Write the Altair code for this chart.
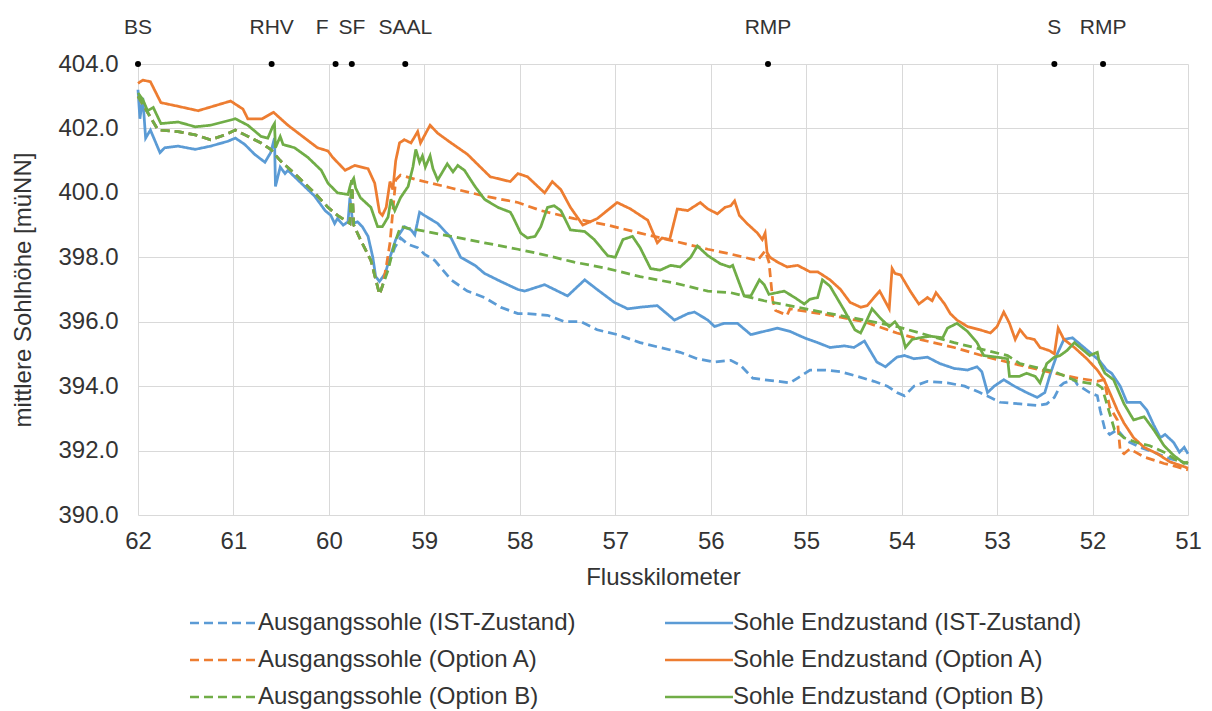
import altair as alt
import pandas as pd

# ---------------- data ----------------
# shared upstream part of all three "Ausgangssohle" profiles (km, m ü. NN)
up_km = [62.00, 61.93, 61.86, 61.79, 61.58, 61.40, 61.24, 61.09, 60.98, 60.88, 60.71, 60.61,
         60.51, 60.36, 60.15, 60.01, 59.91, 59.78, 59.76, 59.74, 59.67, 59.56, 59.47, 59.44]
up_h = [403.0, 402.65, 402.3, 401.95, 401.9, 401.8, 401.65, 401.8, 401.95, 401.8, 401.55, 401.35,
        401.0, 400.6, 400.0, 399.55, 399.3, 399.05, 400.4, 399.0, 398.55, 397.9, 396.85, 397.1]

ist_aus_km = [59.40, 59.36, 59.31, 59.25, 59.17, 59.07, 59.00, 58.89, 58.72, 58.55, 58.37, 58.20,
              58.02, 57.92, 57.71, 57.53, 57.36, 57.19, 56.98, 56.74, 56.53, 56.32, 56.14, 55.96,
              55.79, 55.69, 55.56, 55.44, 55.30, 55.17, 55.09, 54.96, 54.81, 54.64, 54.46, 54.29,
              54.15, 54.05, 53.97, 53.87, 53.73, 53.52, 53.34, 53.18, 53.07, 52.97, 52.76, 52.58,
              52.48, 52.40, 52.34, 52.30, 52.19, 52.16, 52.03, 51.95, 51.92, 51.87, 51.82, 51.74,
              51.64, 51.50, 51.36, 51.19, 51.00]
ist_aus_h = [397.5, 397.9, 398.3, 398.6, 398.4, 398.3, 398.1, 397.9, 397.3, 396.95, 396.75, 396.45,
             396.25, 396.25, 396.2, 396.0, 396.0, 395.75, 395.6, 395.35, 395.2, 395.05, 394.85, 394.75,
             394.8, 394.65, 394.25, 394.2, 394.15, 394.1, 394.25, 394.5, 394.5, 394.45, 394.3, 394.15,
             394.0, 393.8, 393.7, 394.0, 394.15, 394.1, 394.0, 393.8, 393.65, 393.5, 393.45, 393.4,
             393.45, 393.65, 394.0, 394.1, 394.2, 394.05, 393.8, 393.7, 393.25, 392.65, 392.5, 392.65,
             392.3, 392.1, 391.95, 391.75, 391.6]

ist_end_km = [62.00, 61.98, 61.95, 61.92, 61.87, 61.82, 61.77, 61.72, 61.58, 61.40, 61.24, 61.06,
              60.98, 60.88, 60.78, 60.67, 60.61, 60.57, 60.56, 60.51, 60.46, 60.43, 60.29, 60.15,
              60.04, 59.98, 59.94, 59.91, 59.85, 59.80, 59.78, 59.75, 59.70, 59.65, 59.59, 59.54,
              59.51, 59.47, 59.41, 59.36, 59.30, 59.21, 59.14, 59.10, 59.05, 59.00, 58.86, 58.72,
              58.62, 58.47, 58.37, 58.20, 58.02, 57.95, 57.74, 57.50, 57.32, 57.19, 57.01, 56.87,
              56.74, 56.56, 56.38, 56.24, 56.17, 56.03, 55.96, 55.86, 55.72, 55.58, 55.44, 55.30,
              55.17, 55.02, 54.88, 54.75, 54.60, 54.50, 54.39, 54.33, 54.26, 54.17, 54.05, 53.97,
              53.87, 53.73, 53.60, 53.45, 53.31, 53.21, 53.16, 53.10, 53.03, 52.93, 52.82, 52.69,
              52.58, 52.50, 52.44, 52.37, 52.30, 52.21, 52.13, 52.03, 51.93, 51.85, 51.80, 51.71,
              51.64, 51.50, 51.43, 51.36, 51.29, 51.24, 51.15, 51.09, 51.04, 51.00]
ist_end_h = [403.2, 402.3, 402.95, 401.7, 401.95, 401.6, 401.25, 401.4, 401.45, 401.35, 401.45, 401.6,
             401.7, 401.5, 401.2, 400.95, 401.25, 401.7, 400.2, 400.8, 400.6, 400.7, 400.3, 399.9,
             399.45, 399.3, 399.05, 399.2, 399.0, 399.1, 399.85, 399.05, 399.1, 398.95, 398.65, 398.0,
             397.4, 397.25, 397.5, 398.0, 398.55, 398.95, 398.85, 398.7, 399.4, 399.3, 399.05, 398.6,
             398.0, 397.75, 397.5, 397.25, 397.0, 396.95, 397.15, 396.8, 397.3, 397.0, 396.6, 396.4,
             396.45, 396.5, 396.05, 396.25, 396.3, 396.05, 395.85, 395.95, 395.95, 395.6, 395.7, 395.8,
             395.7, 395.5, 395.35, 395.2, 395.25, 395.2, 395.4, 395.1, 394.75, 394.6, 394.9, 394.95,
             394.85, 394.9, 394.7, 394.55, 394.5, 394.6, 394.45, 393.8, 394.0, 394.2, 394.0, 393.8,
             393.65, 393.8, 394.4, 395.0, 395.45, 395.5, 395.3, 395.05, 394.8, 394.5, 394.4, 394.0,
             393.5, 393.5, 393.25, 392.8, 392.4, 392.5, 392.25, 391.95, 392.1, 391.9]

a_aus_km = [59.40, 59.36, 59.33, 59.30, 59.25, 59.07, 58.72, 58.37, 58.02, 57.78, 57.43, 57.08,
            56.74, 56.38, 56.03, 55.79, 55.51, 55.43, 55.39, 55.35, 55.32, 55.20, 55.17, 54.75,
            54.39, 54.05, 53.81, 53.45, 53.10, 52.76, 52.40, 52.16, 51.95, 51.88, 51.82, 51.74,
            51.71, 51.67, 51.61, 51.46, 51.25, 51.12, 51.00]
a_aus_h = [397.7, 398.45, 399.45, 400.4, 400.55, 400.4, 400.15, 399.9, 399.7, 399.45, 399.2, 399.0,
           398.75, 398.5, 398.25, 398.1, 397.9, 398.2, 397.85, 396.65, 396.35, 396.2, 396.4, 396.2,
           396.0, 395.65, 395.45, 395.2, 394.9, 394.65, 394.4, 394.25, 394.15, 394.2, 393.35, 392.95,
           392.0, 391.9, 392.05, 391.8, 391.6, 391.5, 391.4]

a_end_km = [62.00, 61.95, 61.87, 61.76, 61.60, 61.37, 61.20, 61.03, 60.90, 60.85, 60.70, 60.58,
            60.43, 60.12, 60.01, 59.96, 59.83, 59.73, 59.59, 59.52, 59.47, 59.44, 59.40, 59.36,
            59.33, 59.30, 59.26, 59.21, 59.14, 59.07, 59.04, 58.94, 58.86, 58.72, 58.55, 58.31,
            58.10, 58.02, 57.92, 57.74, 57.66, 57.57, 57.47, 57.34, 57.19, 56.98, 56.84, 56.66,
            56.56, 56.51, 56.43, 56.35, 56.24, 56.11, 56.03, 55.93, 55.85, 55.79, 55.75, 55.70,
            55.62, 55.51, 55.46, 55.43, 55.41, 55.38, 55.30, 55.20, 55.09, 54.96, 54.88, 54.75,
            54.64, 54.54, 54.43, 54.36, 54.29, 54.23, 54.13, 54.10, 54.07, 54.01, 53.91, 53.82,
            53.73, 53.68, 53.64, 53.55, 53.49, 53.42, 53.31, 53.18, 53.07, 53.00, 52.93, 52.87,
            52.81, 52.76, 52.69, 52.61, 52.55, 52.45, 52.40, 52.36, 52.30, 52.19, 52.06, 51.95,
            51.88, 51.82, 51.74, 51.67, 51.57, 51.46, 51.32, 51.19, 51.04, 51.00]
a_end_h = [403.4, 403.5, 403.45, 402.8, 402.7, 402.55, 402.7, 402.85, 402.6, 402.3, 402.3, 402.5,
           402.1, 401.4, 401.3, 401.1, 400.7, 400.85, 400.75, 400.3, 399.4, 399.3, 399.55, 400.35,
           400.1, 401.0, 401.55, 401.65, 401.55, 401.9, 401.55, 402.1, 401.85, 401.55, 401.2, 400.5,
           400.35, 400.6, 400.5, 400.0, 400.35, 400.1, 399.55, 399.0, 399.2, 399.7, 399.5, 399.15,
           398.45, 398.6, 398.55, 399.5, 399.45, 399.7, 399.5, 399.35, 399.55, 399.6, 399.75, 399.3,
           399.05, 398.75, 398.55, 398.75, 398.15, 398.0, 397.85, 397.7, 397.75, 397.55, 397.55, 397.3,
           397.0, 396.6, 396.45, 396.5, 396.75, 396.95, 396.4, 397.65, 397.5, 397.45, 396.95, 396.55,
           396.75, 396.65, 396.9, 396.55, 396.25, 396.05, 395.85, 395.75, 395.65, 395.85, 396.3, 395.95,
           395.45, 395.75, 395.5, 395.45, 395.2, 395.1, 395.0, 395.8, 395.45, 395.2, 394.85, 394.5,
           394.2, 393.8, 393.25, 392.85, 392.4, 392.1, 391.9, 391.65, 391.5, 391.45]

b_aus_km = [59.38, 59.31, 59.25, 59.17, 59.07, 58.72, 58.37, 58.02, 57.78, 57.43, 57.08, 56.74,
            56.38, 56.03, 55.79, 55.44, 55.09, 54.75, 54.39, 54.05, 53.81, 53.45, 53.10, 52.89,
            52.76, 52.40, 52.16, 51.95, 51.90, 51.83, 51.77, 51.67, 51.54, 51.40, 51.25, 51.12,
            51.00]
b_aus_h = [397.6, 398.45, 398.95, 398.9, 398.85, 398.65, 398.45, 398.25, 398.1, 397.85, 397.65, 397.4,
           397.2, 396.95, 396.9, 396.65, 396.45, 396.25, 396.05, 395.85, 395.65, 395.35, 395.1, 394.95,
           394.7, 394.45, 394.15, 394.05, 393.95, 393.25, 392.65, 392.4, 392.25, 392.15, 391.95, 391.7,
           391.6]

b_end_km = [62.00, 61.95, 61.90, 61.84, 61.76, 61.58, 61.40, 61.24, 60.98, 60.85, 60.71, 60.64,
            60.59, 60.57, 60.56, 60.51, 60.48, 60.36, 60.22, 60.08, 60.01, 59.91, 59.80, 59.77,
            59.74, 59.72, 59.67, 59.56, 59.49, 59.44, 59.38, 59.35, 59.31, 59.25, 59.17, 59.12,
            59.09, 59.05, 59.02, 58.99, 58.94, 58.91, 58.86, 58.81, 58.76, 58.70, 58.65, 58.58,
            58.47, 58.37, 58.23, 58.10, 58.08, 57.99, 57.92, 57.84, 57.78, 57.71, 57.64, 57.57,
            57.47, 57.32, 57.22, 57.08, 57.00, 56.92, 56.82, 56.74, 56.63, 56.53, 56.42, 56.32,
            56.21, 56.14, 56.03, 55.90, 55.80, 55.77, 55.72, 55.65, 55.58, 55.49, 55.44, 55.39,
            55.23, 55.12, 55.02, 54.96, 54.88, 54.83, 54.75, 54.60, 54.49, 54.43, 54.38, 54.31,
            54.22, 54.13, 54.07, 54.01, 53.96, 53.89, 53.81, 53.70, 53.57, 53.52, 53.42, 53.31,
            53.21, 53.14, 53.00, 52.89, 52.87, 52.77, 52.69, 52.60, 52.55, 52.48, 52.40, 52.34,
            52.27, 52.19, 52.13, 52.03, 51.95, 51.93, 51.87, 51.78, 51.67, 51.57, 51.46, 51.36,
            51.25, 51.15, 51.04, 51.00]
b_end_h = [403.1, 402.9, 402.55, 402.65, 402.15, 402.2, 402.05, 402.1, 402.3, 402.1, 401.75, 401.7,
           402.05, 402.15, 401.4, 401.75, 401.5, 401.4, 401.1, 400.7, 400.3, 400.0, 399.95, 400.3,
           400.45, 400.15, 399.85, 399.55, 398.95, 398.95, 399.25, 399.8, 399.45, 399.85, 400.2, 400.8,
           401.35, 400.95, 401.15, 400.8, 401.15, 400.75, 400.4, 400.65, 400.9, 400.65, 400.85, 400.7,
           400.2, 399.8, 399.55, 399.4, 399.3, 398.75, 398.6, 398.65, 398.95, 399.55, 399.6, 399.45,
           398.85, 398.8, 398.55, 398.05, 398.0, 398.55, 398.65, 398.3, 397.65, 397.6, 397.75, 397.7,
           398.0, 398.35, 398.05, 397.8, 397.7, 397.75, 397.35, 396.8, 396.8, 397.3, 397.15, 396.85,
           396.95, 396.75, 396.55, 396.7, 396.75, 397.3, 397.1, 396.35, 395.75, 395.65, 395.95, 396.4,
           396.1, 395.85, 396.0, 395.75, 395.2, 395.45, 395.5, 395.55, 395.5, 395.8, 395.95, 395.7,
           395.35, 394.95, 394.9, 394.85, 394.3, 394.3, 394.4, 394.3, 394.1, 394.7, 394.9, 394.95,
           395.1, 395.35, 395.2, 394.95, 395.05, 394.75, 394.4, 394.2, 393.45, 392.95, 393.05, 392.65,
           392.15, 391.85, 391.6, 391.65]

# drawing order (later series on top)
draw_order = ["Ausgangssohle (IST-Zustand)", "Sohle Endzustand (IST-Zustand)",
              "Ausgangssohle (Option A)", "Sohle Endzustand (Option A)",
              "Ausgangssohle (Option B)", "Sohle Endzustand (Option B)"]
# legend order (legend fills column by column)
legend_order = ["Ausgangssohle (IST-Zustand)", "Ausgangssohle (Option A)", "Ausgangssohle (Option B)",
                "Sohle Endzustand (IST-Zustand)", "Sohle Endzustand (Option A)",
                "Sohle Endzustand (Option B)"]
legend_colors = ["#5b9bd5", "#ed7d31", "#70ad47", "#5b9bd5", "#ed7d31", "#70ad47"]
legend_dash = [[9, 5], [9, 5], [9, 5], [1, 0], [1, 0], [1, 0]]

marker_names = ["BS", "RHV", "F", "SF", "SAAL", "RMP", "S", "RMP"]
marker_km = [62.0, 60.60, 59.93, 59.76, 59.20, 55.40, 52.40, 51.89]
marker_level = 404.0

x_ticks = list(range(51, 63))
y_ticks = [390, 392, 394, 396, 398, 400, 402, 404]

# ---------------- table ----------------
series_data = [
    (up_km + ist_aus_km, up_h + ist_aus_h),
    (ist_end_km, ist_end_h),
    (up_km + a_aus_km, up_h + a_aus_h),
    (a_end_km, a_end_h),
    (up_km + b_aus_km, up_h + b_aus_h),
    (b_end_km, b_end_h),
]
rows = []
for name, (kms, hs) in zip(draw_order, series_data):
    for i, (k, h) in enumerate(zip(kms, hs)):
        rows.append({"km": k, "h": h, "serie": name, "i": i})
df = pd.DataFrame(rows)

mk = pd.DataFrame({"name": marker_names, "km": marker_km, "h": [marker_level] * len(marker_km)})

FONT = "Liberation Sans"
TXT = "#333333"

x_enc = alt.X("km:Q",
              scale=alt.Scale(domain=[51, 62], reverse=True, nice=False, zero=False),
              axis=alt.Axis(values=x_ticks, format="d", title="Flusskilometer",
                            labelPadding=14, labelFlush=False,
                            titleY=62, titleBaseline="middle"))
y_enc = alt.Y("h:Q",
              scale=alt.Scale(domain=[390, 404], nice=False, zero=False),
              axis=alt.Axis(values=y_ticks, format=".1f", title="mittlere Sohlhöhe [müNN]",
                            labelPadding=20, labelFlush=False,
                            titleX=-115, titleBaseline="middle", titleAngle=-90))

color_enc = alt.Color("serie:N",
                      scale=alt.Scale(domain=legend_order, range=legend_colors),
                      legend=alt.Legend(title=None, orient="none", legendX=50, legendY=546,
                                        columns=2, columnPadding=83, rowPadding=12,
                                        symbolType="M-3,0H3", symbolSize=514,
                                        symbolStrokeWidth=2.5, symbolOffset=23, labelOffset=21,
                                        labelFontSize=24, labelFont=FONT, labelColor=TXT,
                                        labelLimit=0, padding=0))
dash_enc = alt.StrokeDash("serie:N",
                          scale=alt.Scale(domain=legend_order, range=legend_dash),
                          legend=None)

base = alt.Chart(df).mark_line(strokeWidth=2.75).encode(
    x=x_enc, y=y_enc, color=color_enc, strokeDash=dash_enc, order="i:Q"
)
lines = [base.transform_filter(alt.datum.serie == s) for s in draw_order]

dots = alt.Chart(mk).mark_point(filled=True, color="black", size=36, opacity=1).encode(
    x="km:Q", y="h:Q")
labels_c = alt.Chart(mk).transform_filter(alt.datum.name != "F").mark_text(
    dy=-36, fontSize=21, font=FONT, color=TXT, align="center", baseline="middle"
).encode(x="km:Q", y="h:Q", text="name:N")
labels_f = alt.Chart(mk).transform_filter(alt.datum.name == "F").mark_text(
    dy=-36, dx=-7, fontSize=21, font=FONT, color=TXT, align="right", baseline="middle"
).encode(x="km:Q", y="h:Q", text="name:N")

chart = alt.layer(*lines, dots, labels_c, labels_f).properties(
    width=1050, height=451,
    padding={"left": 130, "top": 56, "right": 16, "bottom": 196},
    autosize=alt.AutoSizeParams(type="none"),
    background="white",
).configure_view(strokeWidth=0).configure_axis(
    grid=True, gridColor="#d9d9d9", gridWidth=1, domain=False, ticks=False, tickSize=0,
    labelFont=FONT, labelFontSize=24, labelColor=TXT,
    titleFont=FONT, titleFontSize=24, titleColor=TXT, titleFontWeight="normal",
)

chart.save("out.html", embed_options={"renderer": "svg", "actions": False})
